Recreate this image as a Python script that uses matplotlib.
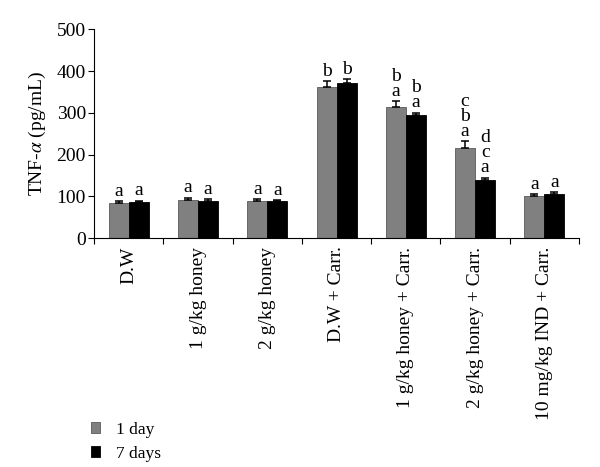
import matplotlib
matplotlib.use("Agg")
import matplotlib.pyplot as plt
import numpy as np

categories = ["D.W", "1 g/kg honey", "2 g/kg honey", "D.W + Carr.",
              "1 g/kg honey + Carr.", "2 g/kg honey + Carr.", "10 mg/kg IND + Carr."]
day1 = [84, 91, 88, 363, 313, 215, 101]
day1_err = [4, 6, 6, 13, 15, 18, 5]
day7 = [87, 90, 88, 372, 296, 140, 106]
day7_err = [3, 4, 4, 9, 5, 5, 4]
letters1 = ["a", "a", "a", "b", "b\na", "c\nb\na", "a"]
letters7 = ["a", "a", "a", "b", "b\na", "d\nc\na", "a"]
series_names = ["1 day", "7 days"]

plt.rcParams['font.family'] = ['Liberation Serif', 'DejaVu Serif']
plt.rcParams['mathtext.fontset'] = 'stix'
fig = plt.figure(figsize=(6, 4.67), dpi=100)
ax = fig.add_axes([0.157, 0.49, 0.808, 0.447])

x = np.arange(len(categories))
w = 0.29
ekw = dict(ecolor="black", elinewidth=1.1, capsize=3, capthick=1.1)
b1 = ax.bar(x - w/2, day1, w, color="#808080", edgecolor="#5a5a5a", linewidth=0.6,
            yerr=[np.zeros(len(day1)), day1_err], error_kw=ekw, label=series_names[0])
b2 = ax.bar(x + w/2, day7, w, color="black", edgecolor="black", linewidth=0.6,
            yerr=[np.zeros(len(day7)), day7_err], error_kw=ekw, label=series_names[1])

for i in range(len(categories)):
    ax.text(x[i] - w/2, day1[i] + day1_err[i] + 3, letters1[i], ha="center", va="bottom",
            fontsize=14, linespacing=0.85)
    ax.text(x[i] + w/2, day7[i] + day7_err[i] + 3, letters7[i], ha="center", va="bottom",
            fontsize=14, linespacing=0.85)

ax.set_xlim(-0.5, len(categories) - 0.5)
ax.set_ylim(0, 500)
ax.set_yticks([0, 100, 200, 300, 400, 500])
ax.tick_params(axis="y", labelsize=14, direction="out", length=4, pad=2)
ax.set_xticks(np.arange(len(categories) + 1) - 0.5)
ax.set_xticklabels([])
ax.tick_params(axis="x", direction="out", length=4)
ax.set_xticks(x, minor=True)
ax.set_xticklabels(categories, minor=True, rotation=90, fontsize=14, va="top")
ax.tick_params(axis="x", which="minor", length=0, pad=6)
ax.set_ylabel("TNF-$\\alpha$ (pg/mL)", fontsize=14, labelpad=6)
ax.spines["top"].set_visible(False)
ax.spines["right"].set_visible(False)

leg = fig.legend(handles=[b1, b2], labels=series_names, loc="lower left",
                 bbox_to_anchor=(0.125, -0.022), frameon=False, fontsize=12.5,
                 handlelength=0.55, handleheight=0.55, handletextpad=0.9, labelspacing=0.45)

fig.savefig("out.png", dpi=100)
